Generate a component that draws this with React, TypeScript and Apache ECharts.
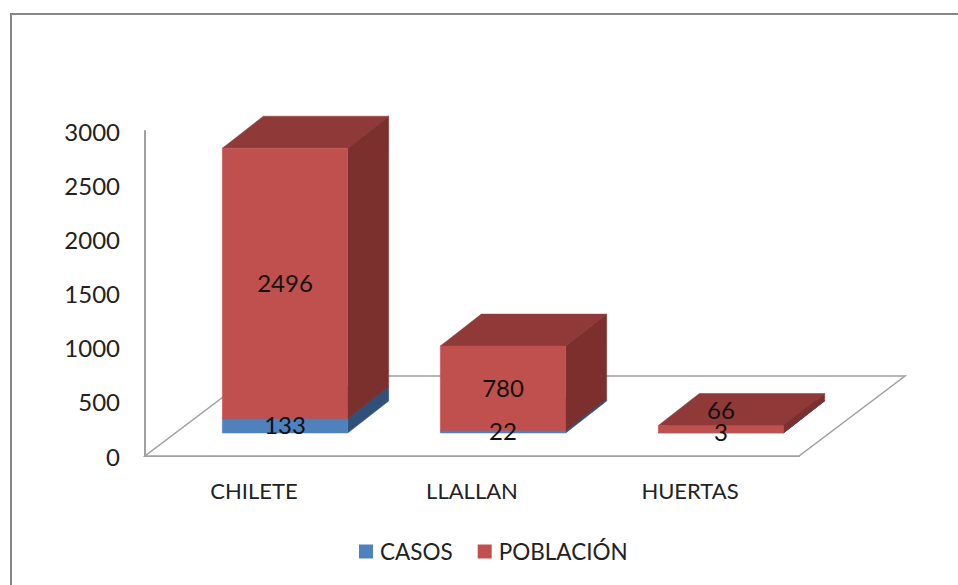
import React, { useEffect, useRef } from "react";
import * as echarts from "echarts";

const categories = ["CHILETE", "LLALLAN", "HUERTAS"];
const casos = [133, 22, 3];
const poblacion = [2496, 780, 66];
const FONT = "Lato, 'Open Sans', sans-serif";

const BAR_WIDTH = 0.575;
const BAR_SHIFT = [31, -23];
const BAR_DEPTH = [41, -32];
const FLOOR_DEPTH = [106, -80];
const GRAY = "#A0A0A0";

function segment(base: number[], top: number[], w: number, front: string, side: string, roof: string) {
  const [dx, dy] = BAR_DEPTH;
  const l = base[0] - w / 2;
  const r = base[0] + w / 2;
  const poly = (points: number[][], fill: string) => ({
    type: "polygon",
    shape: { points },
    style: { fill, stroke: fill, lineWidth: 0.5 },
  });
  return [
    poly([[l, top[1]], [r, top[1]], [r + dx, top[1] + dy], [l + dx, top[1] + dy]], roof),
    poly([[r, base[1]], [r + dx, base[1] + dy], [r + dx, top[1] + dy], [r, top[1]]], side),
    poly([[l, base[1]], [r, base[1]], [r, top[1]], [l, top[1]]], front),
  ];
}

function barRenderer(lower: number[], upper: number[], front: string, side: string, roof: string) {
  return (params: any, api: any) => {
    const i = params.dataIndex;
    const s = api.size([1, 0])[0];
    const b = api.coord([i, lower[i]]);
    const t = api.coord([i, upper[i]]);
    const base = [b[0] + BAR_SHIFT[0], b[1] + BAR_SHIFT[1]];
    const top = [t[0] + BAR_SHIFT[0], t[1] + BAR_SHIFT[1]];
    return { type: "group", children: segment(base, top, s * BAR_WIDTH, front, side, roof) };
  };
}

const totals = casos.map((c, i) => c + poblacion[i]);

function labelRenderer(lower: number[], upper: number[], values: number[], liftIndex: number, lift: number) {
  return (params: any, api: any) => {
    const i = params.dataIndex;
    const p = api.coord([i, (lower[i] + upper[i]) / 2]);
    return {
      type: "text",
      x: p[0] + BAR_SHIFT[0],
      y: p[1] + BAR_SHIFT[1] - 1 - (i === liftIndex ? lift : 0),
      style: {
        text: String(values[i]),
        fill: "#111111",
        font: `24px ${FONT}`,
        align: "center",
        verticalAlign: "middle",
      },
    };
  };
}

export default function App() {
  const ref = useRef<HTMLDivElement>(null);
  useEffect(() => {
    const chart = echarts.init(ref.current!, null, { renderer: "svg" });
    chart.setOption({
      animation: false,
      backgroundColor: "#ffffff",
      grid: { left: 145, top: 131, width: 654, height: 325, containLabel: false },
      graphic: [
        {
          type: "polyline",
          shape: { points: [[11, 585], [11, 14], [958, 14]] },
          style: { stroke: "#868686", lineWidth: 2, fill: "none" },
          z: 0,
        },
      ],
      legend: {
        left: 354,
        top: 535,
        itemWidth: 14,
        itemHeight: 14,
        itemGap: 25,
        data: ["CASOS", "POBLACIÓN"],
        icon: "rect",
        textStyle: { fontFamily: FONT, fontSize: 22.5, color: "#222222", padding: [0, 0, 0, 2] },
      },
      xAxis: {
        type: "category",
        data: categories,
        axisLine: { show: true, lineStyle: { color: GRAY, width: 2 } },
        axisTick: { show: false },
        axisLabel: { fontFamily: FONT, fontSize: 22, color: "#222222", margin: 23 },
        splitLine: { show: false },
      },
      yAxis: {
        type: "value",
        min: 0,
        max: 3000,
        interval: 500,
        axisLine: { show: true, lineStyle: { color: GRAY, width: 2 } },
        axisTick: { show: false },
        axisLabel: {
          fontFamily: FONT,
          fontSize: 24,
          color: "#222222",
          margin: 25,
          formatter: (v: number) => String(v),
        },
        splitLine: { show: false },
      },
      series: [
        {
          type: "custom",
          name: "floor",
          coordinateSystem: "cartesian2d",
          silent: true,
          clip: false,
          z: 1,
          data: [0],
          renderItem: (_p: any, api: any) => {
            const a = api.coord([0, 0]);
            const step = api.size([1, 0])[0];
            const l = a[0] - step / 2;
            const r = a[0] + step * 2.5;
            const y = a[1];
            const [dx, dy] = FLOOR_DEPTH;
            return {
              type: "polygon",
              shape: { points: [[l, y], [r, y], [r + dx, y + dy], [l + dx, y + dy]] },
              style: { fill: "#ffffff", stroke: GRAY, lineWidth: 1.5 },
            };
          },
        },
        {
          type: "custom",
          name: "CASOS",
          coordinateSystem: "cartesian2d",
          clip: false,
          z: 3,
          itemStyle: { color: "#4F81BD" },
          data: casos,
          renderItem: barRenderer(casos.map(() => 0), casos, "#4F81BD", "#2F5179", "#3F6797"),
        },
        {
          type: "custom",
          name: "POBLACIÓN",
          coordinateSystem: "cartesian2d",
          clip: false,
          z: 4,
          itemStyle: { color: "#C0504D" },
          data: poblacion,
          renderItem: barRenderer(casos, totals, "#C0504D", "#7B302E", "#8F3A38"),
        },
        {
          type: "custom",
          name: "labelsCasos",
          coordinateSystem: "cartesian2d",
          silent: true,
          clip: false,
          z: 5,
          data: casos,
          renderItem: labelRenderer(casos.map(() => 0), casos, casos, -1, 0),
        },
        {
          type: "custom",
          name: "labelsPoblacion",
          coordinateSystem: "cartesian2d",
          silent: true,
          clip: false,
          z: 5,
          data: poblacion,
          renderItem: labelRenderer(casos, totals, poblacion, 2, 19),
        },
      ],
    });
    return () => chart.dispose();
  }, []);
  return <div ref={ref} style={{ position: "fixed", left: 0, top: 0, width: 958, height: 585 }} />;
}
